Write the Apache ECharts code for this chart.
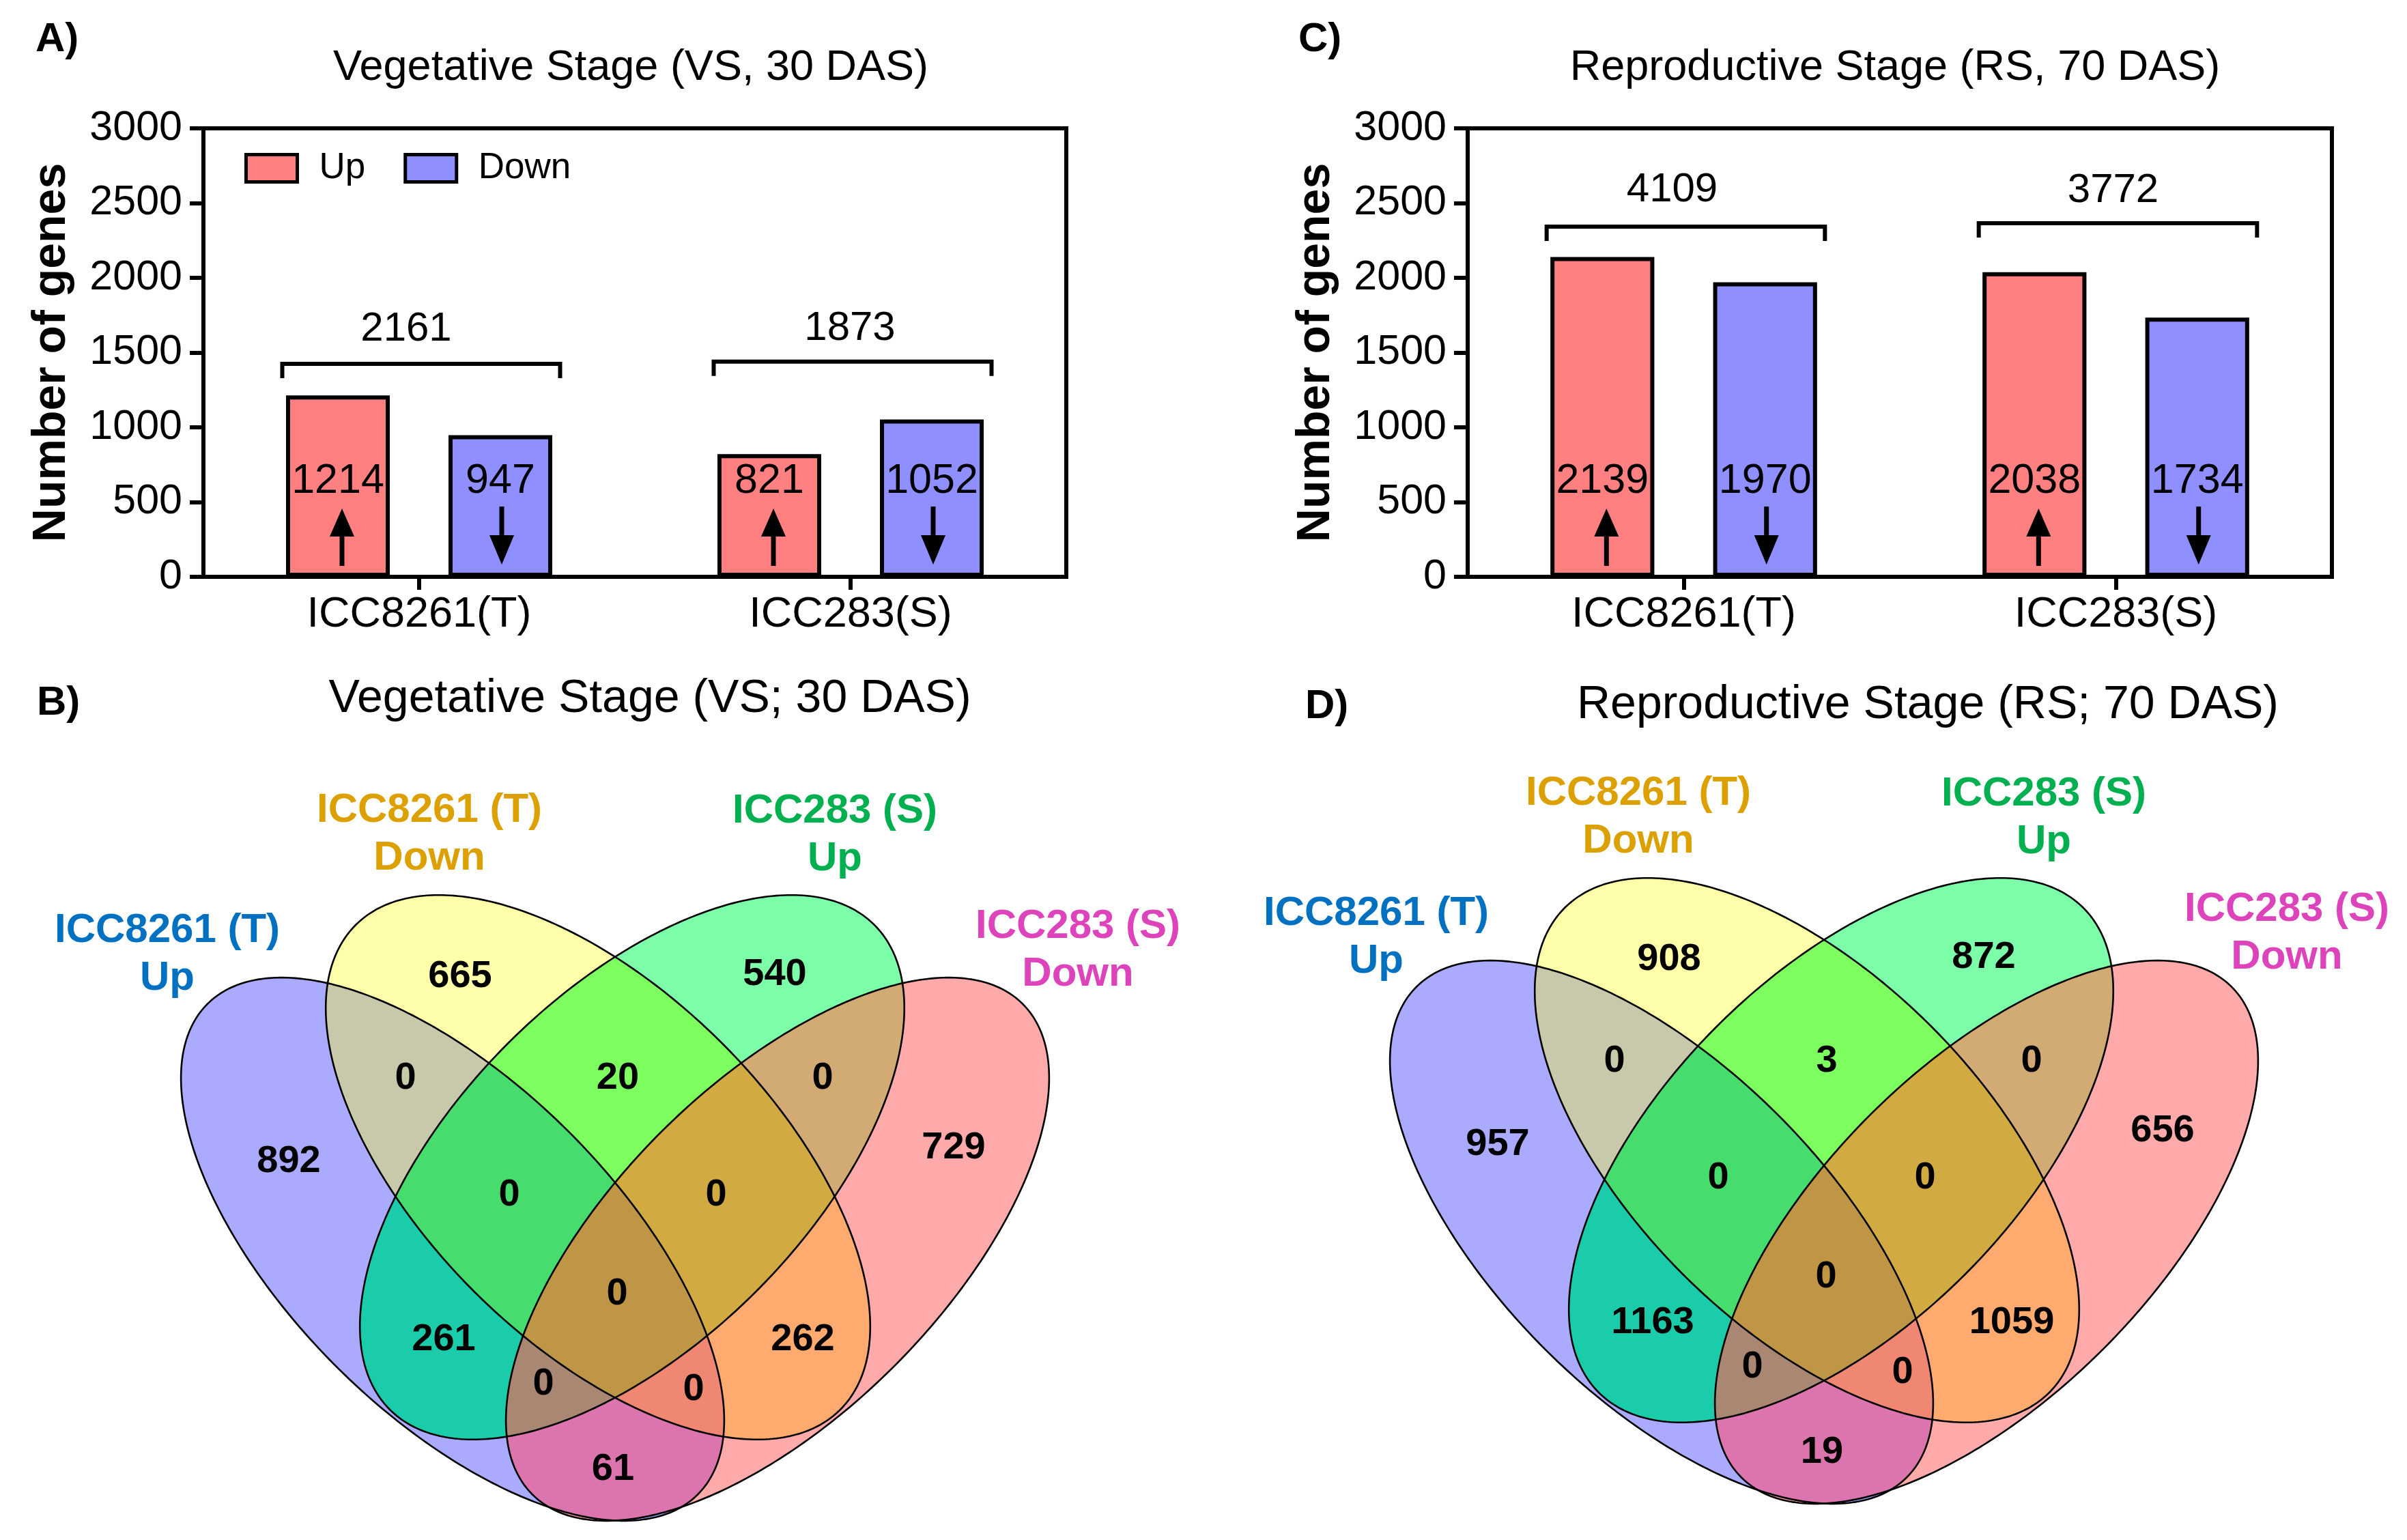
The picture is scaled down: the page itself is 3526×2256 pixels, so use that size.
<!DOCTYPE html>
<html><head><meta charset="utf-8">
<script src="https://cdn.jsdelivr.net/npm/echarts@6/dist/echarts.min.js"></script>
<style>html,body{margin:0;padding:0;background:#fff}#c{width:3526px;height:2256px}</style>
</head><body><div id="c"></div>
<script>
// ---------------- data ----------------
const categories = ['ICC8261(T)', 'ICC283(S)'];
const seriesNames = ['Up', 'Down'];
const vsUp = [1214, 821];
const vsDown = [947, 1052];
const rsUp = [2139, 2038];
const rsDown = [1970, 1734];
const barTitles = ['Vegetative Stage (VS, 30 DAS)', 'Reproductive Stage (RS, 70 DAS)'];
const vennTitles = ['Vegetative Stage (VS; 30 DAS)', 'Reproductive Stage (RS; 70 DAS)'];
const panelLetters = ['A)', 'B)', 'C)', 'D)'];
const yAxisName = 'Number of genes';
const vennSetNames = ['ICC8261 (T)\nUp', 'ICC8261 (T)\nDown', 'ICC283 (S)\nUp', 'ICC283 (S)\nDown'];
// region membership masks (1 = ICC8261 Up, 2 = ICC8261 Down, 4 = ICC283 Up, 8 = ICC283 Down)
const vennRegionMask = [1, 2, 4, 8, 3, 6, 12, 7, 14, 15, 5, 10, 13, 11, 9];
const vsVenn = [892, 665, 540, 729, 0, 20, 0, 0, 0, 0, 261, 262, 0, 0, 61];
const rsVenn = [957, 908, 872, 656, 0, 3, 0, 0, 0, 0, 1163, 1059, 0, 0, 19];

// ---------------- layout / style ----------------
const FONT = "'Liberation Sans', Arial, Helvetica, sans-serif";
const UP_COLOR = '#FF8080', DOWN_COLOR = '#8F8FFF';
const BAR_W = 0.2405, BAR_GAP = 0.566;
const NOTE_LEVEL = 640;
const ARROW = { up: { from: 73, base: 269, tip: 457 }, down: { from: 470, base: 279, tip: 82 } };
// [bracket level, label level, label x shift px]
const vsBracket = [[1425, 1655, -22], [1440, 1660, -4]];
const rsBracket = [[2342, 2589, -20], [2365, 2584, -7]];
const vennRegionPos = [[-478, -8], [-227, -279], [234, -282], [496, -28], [-307, -130], [4, -130], [304, -130],
  [-155, 41], [148, 41], [3, 186], [-251, 253], [275, 253], [-105, 318], [115, 326], [-3, 443]];
const vennRegionColor = ['#AAAAFF', '#FFFFAA', '#7DFFAA', '#FFAAAA', '#C8C8AA', '#7DFF5F', '#D2AA73',
  '#46DC6E', '#D2AA42', '#BE9646', '#1ACCAA', '#FFAA6E', '#AA8773', '#F08773', '#DC74AE'];
const vennEllipses = [[-238, 120, 508, 242, 45], [-25, 0, 502, 257, 45], [25, 0, 502, 257, -45], [238, 120, 508, 242, -45]];
const vennLabelPos = [[-656, -312], [-272, -488], [322, -487], [678, -318]];
const vennLabelColor = ['#0070C0', '#DCA000', '#00B050', '#DD44BB'];

// ---------------- geometry helpers ----------------
function ellipseData(e) {
  const [cx, cy, a, b, angDeg] = e;
  const ang = angDeg * Math.PI / 180, pts = [];
  for (let i = 0; i < 360; i++) {
    const t = i / 360 * 2 * Math.PI;
    pts.push([cx + a * Math.cos(t) * Math.cos(ang) - b * Math.sin(t) * Math.sin(ang),
              cy + a * Math.cos(t) * Math.sin(ang) + b * Math.sin(t) * Math.cos(ang)]);
  }
  return pts;
}
function signedArea(p) {
  let s = 0;
  for (let i = 0; i < p.length; i++) { const q = p[i], r = p[(i + 1) % p.length]; s += q[0] * r[1] - r[0] * q[1]; }
  return s;
}
function lineX(S, E, A, B) {
  const x1 = S[0], y1 = S[1], x2 = E[0], y2 = E[1], x3 = A[0], y3 = A[1], x4 = B[0], y4 = B[1];
  const d = (x1 - x2) * (y3 - y4) - (y1 - y2) * (x3 - x4);
  if (Math.abs(d) < 1e-12) return [x2, y2];
  const t = ((x1 - x3) * (y3 - y4) - (y1 - y3) * (x3 - x4)) / d;
  return [x1 + t * (x2 - x1), y1 + t * (y2 - y1)];
}
function clipConvex(subject, clipPoly) {
  const sg = signedArea(clipPoly) > 0 ? 1 : -1;
  let out = subject;
  for (let i = 0; i < clipPoly.length && out.length; i++) {
    const A = clipPoly[i], B = clipPoly[(i + 1) % clipPoly.length];
    const inside = p => sg * ((B[0] - A[0]) * (p[1] - A[1]) - (B[1] - A[1]) * (p[0] - A[0])) >= 0;
    const inp = out; out = [];
    let S = inp[inp.length - 1];
    for (const E of inp) {
      const eIn = inside(E), sIn = inside(S);
      if (eIn) { if (!sIn) out.push(lineX(S, E, A, B)); out.push(E); }
      else if (sIn) out.push(lineX(S, E, A, B));
      S = E;
    }
  }
  return out;
}
const ellipsePolys = vennEllipses.map(ellipseData);
function regionPoly(mask) {
  const sets = [0, 1, 2, 3].filter(k => mask & (1 << k));
  let poly = ellipsePolys[sets[0]];
  for (let j = 1; j < sets.length; j++) poly = clipConvex(poly, ellipsePolys[sets[j]]);
  return poly;
}
const popcount = m => (m & 1) + ((m >> 1) & 1) + ((m >> 2) & 1) + ((m >> 3) & 1);
const regionPaintOrder = vennRegionMask.map((m, i) => i).sort((i, j) => popcount(vennRegionMask[i]) - popcount(vennRegionMask[j]));

// ---------------- render helpers ----------------
function renderBarNote(params, api) {
  const cat = api.value(0), kind = api.value(1), val = api.value(2);
  const band = api.size([1, 0])[0];
  const off = band * BAR_W * (1 + BAR_GAP) / 2;
  const cx = api.coord([cat, 0])[0] + (kind === 0 ? -off : off);
  const ax = cx + (kind === 0 ? 6 : 2);
  const ty = api.coord([cat, NOTE_LEVEL])[1];
  const children = [{
    type: 'text', x: cx, y: ty,
    style: { text: String(val), fontSize: 61, fontFamily: FONT, fill: '#000', textAlign: 'center', textVerticalAlign: 'middle' }
  }];
  const A = kind === 0 ? ARROW.up : ARROW.down;
  const yFrom = api.coord([cat, A.from])[1], yBase = api.coord([cat, A.base])[1], yTip = api.coord([cat, A.tip])[1];
  children.push({ type: 'line', shape: { x1: ax, y1: yFrom, x2: ax, y2: yBase }, style: { stroke: '#000', lineWidth: 7 } });
  children.push({ type: 'polygon', shape: { points: [[ax - 18, yBase], [ax + 18, yBase], [ax, yTip]] }, style: { fill: '#000' } });
  return { type: 'group', children };
}
function renderBracket(params, api) {
  const cat = api.value(0), by = api.value(1), ly = api.value(2), total = api.value(3), dx = api.value(4);
  const band = api.size([1, 0])[0];
  const hw = band * 0.322;
  const p = api.coord([cat, by]);
  const cx = p[0] + 3, y = p[1];
  const lyPx = api.coord([cat, ly])[1];
  return {
    type: 'group', children: [
      { type: 'polyline', shape: { points: [[cx - hw, y + 21], [cx - hw, y], [cx + hw, y], [cx + hw, y + 21]] },
        style: { stroke: '#000', lineWidth: 6, fill: null, lineJoin: 'miter' } },
      { type: 'text', x: cx + dx, y: lyPx, style: { text: String(total), fontSize: 60, fontFamily: FONT, fill: '#000', textAlign: 'center', textVerticalAlign: 'middle' } }
    ]
  };
}
function renderRegion(params, api) {
  const idx = api.value(0);
  const pts = regionPoly(vennRegionMask[idx]).map(p => api.coord(p));
  if (pts.length < 3) return null;
  const c = vennRegionColor[idx];
  return { type: 'polygon', shape: { points: pts }, style: { fill: c, stroke: c, lineWidth: 1 } };
}
function renderEllipseLine(params, api) {
  const pts = ellipseData([api.value(0), api.value(1), api.value(2), api.value(3), api.value(4)]).map(p => api.coord(p));
  return { type: 'polygon', shape: { points: pts }, style: { fill: null, stroke: '#000', lineWidth: 2.6 } };
}
function renderCount(params, api) {
  const p = api.coord([api.value(0), api.value(1)]);
  return { type: 'text', x: p[0], y: p[1], style: { text: String(api.value(2)), fontSize: 56, fontWeight: 'bold', fontFamily: FONT, fill: '#000', textAlign: 'center', textVerticalAlign: 'middle' } };
}
function renderSetLabel(params, api) {
  const p = api.coord([api.value(0), api.value(1)]);
  const k = api.value(2);
  return { type: 'text', x: p[0], y: p[1], style: { text: vennSetNames[k], fontSize: 60, fontWeight: 'bold', fontFamily: FONT, fill: vennLabelColor[k], textAlign: 'center', textVerticalAlign: 'middle', lineHeight: 70 } };
}

// ---------------- axes ----------------
function catAxis(gi) {
  return {
    gridIndex: gi, type: 'category', data: categories,
    axisLine: { show: true, lineStyle: { color: '#000', width: 6 } },
    axisTick: { show: true, alignWithLabel: true, length: 19, lineStyle: { color: '#000', width: 6 } },
    axisLabel: { fontSize: 63, color: '#000', margin: 24, fontFamily: FONT },
    splitLine: { show: false }
  };
}
function valAxis(gi) {
  return {
    gridIndex: gi, type: 'value', min: 0, max: 3000, interval: 500,
    name: yAxisName, nameLocation: 'middle', nameGap: 188,
    nameTextStyle: { fontSize: 68, fontWeight: 'bold', color: '#000', fontFamily: FONT },
    axisLine: { show: true, lineStyle: { color: '#000', width: 6 } },
    axisTick: { show: true, length: 20, lineStyle: { color: '#000', width: 6 } },
    axisLabel: { fontSize: 61, color: '#000', margin: 31, fontFamily: FONT, formatter: v => String(v) },
    splitLine: { show: false }
  };
}
const hiddenX = gi => ({ gridIndex: gi, type: 'value', min: -700, max: 700, show: false });
const hiddenY = gi => ({ gridIndex: gi, type: 'value', min: -760, max: 540, inverse: true, show: false });

function barSeries(name, data, color, gi) {
  return {
    type: 'bar', name, data, xAxisIndex: gi, yAxisIndex: gi,
    barWidth: (BAR_W * 100) + '%', barGap: (BAR_GAP * 100) + '%',
    itemStyle: { color, borderColor: '#000', borderWidth: 6 }, emphasis: { disabled: true }
  };
}
function noteData(up, down) {
  const out = [];
  categories.forEach((c, i) => { out.push([i, 0, up[i]]); out.push([i, 1, down[i]]); });
  return out;
}
function bracketData(up, down, br) {
  return categories.map((c, i) => [i, br[i][0], br[i][1], up[i] + down[i], br[i][2]]);
}
function vennSeries(gi, counts) {
  return [
    { type: 'custom', xAxisIndex: gi, yAxisIndex: gi, renderItem: renderRegion, data: regionPaintOrder.map(i => [i, 0]), silent: true, z: 2 },
    { type: 'custom', xAxisIndex: gi, yAxisIndex: gi, renderItem: renderEllipseLine, data: vennEllipses, silent: true, z: 3 },
    { type: 'custom', xAxisIndex: gi, yAxisIndex: gi, renderItem: renderCount, data: vennRegionPos.map((p, i) => [p[0], p[1], counts[i]]), silent: true, z: 4 },
    { type: 'custom', xAxisIndex: gi, yAxisIndex: gi, renderItem: renderSetLabel, data: vennLabelPos.map((p, i) => [p[0], p[1], i]), silent: true, z: 4 }
  ];
}
function txt(text, x, y, size, bold, align) {
  return { type: 'text', x, y, style: { text, fontSize: size, fontWeight: bold ? 'bold' : 'normal', fontFamily: FONT, fill: '#000', textAlign: align || 'center', textVerticalAlign: 'middle' } };
}

const option = {
  backgroundColor: '#fff',
  animation: false,
  grid: [
    { left: 298, top: 188, width: 1264, height: 657, show: true, borderColor: '#000', borderWidth: 6, backgroundColor: 'transparent', outerBoundsMode: 'none', containLabel: false },
    { left: 2150, top: 188, width: 1266, height: 657, show: true, borderColor: '#000', borderWidth: 6, backgroundColor: 'transparent', outerBoundsMode: 'none', containLabel: false },
    { left: 201, top: 950, width: 1400, height: 1300, show: false, outerBoundsMode: 'none', containLabel: false },
    { left: 1972, top: 925, width: 1400, height: 1300, show: false, outerBoundsMode: 'none', containLabel: false }
  ],
  xAxis: [catAxis(0), catAxis(1), hiddenX(2), hiddenX(3)],
  yAxis: [valAxis(0), valAxis(1), hiddenY(2), hiddenY(3)],
  legend: {
    left: 353, top: 215, itemWidth: 75, itemHeight: 40, itemGap: 56, icon: 'rect',
    data: seriesNames, selectedMode: false,
    itemStyle: { borderColor: '#000', borderWidth: 5 },
    textStyle: { fontSize: 53, color: '#000', fontFamily: FONT, lineHeight: 40, padding: [0, 0, 0, 27] }
  },
  graphic: [
    txt(panelLetters[0], 52, 58, 60, true, 'left'),
    txt(panelLetters[2], 1902, 58, 60, true, 'left'),
    txt(panelLetters[1], 54, 1030, 60, true, 'left'),
    txt(panelLetters[3], 1912, 1035, 60, true, 'left'),
    txt(barTitles[0], 924, 100, 63, false),
    txt(barTitles[1], 2776, 100, 63, false),
    txt(vennTitles[0], 952, 1024, 68, false),
    txt(vennTitles[1], 2824, 1033, 68, false)
  ],
  series: [
    barSeries(seriesNames[0], vsUp, UP_COLOR, 0),
    barSeries(seriesNames[1], vsDown, DOWN_COLOR, 0),
    barSeries(seriesNames[0], rsUp, UP_COLOR, 1),
    barSeries(seriesNames[1], rsDown, DOWN_COLOR, 1),
    { type: 'custom', xAxisIndex: 0, yAxisIndex: 0, renderItem: renderBarNote, data: noteData(vsUp, vsDown), silent: true, z: 5 },
    { type: 'custom', xAxisIndex: 1, yAxisIndex: 1, renderItem: renderBarNote, data: noteData(rsUp, rsDown), silent: true, z: 5 },
    { type: 'custom', xAxisIndex: 0, yAxisIndex: 0, renderItem: renderBracket, data: bracketData(vsUp, vsDown, vsBracket), silent: true, z: 5 },
    { type: 'custom', xAxisIndex: 1, yAxisIndex: 1, renderItem: renderBracket, data: bracketData(rsUp, rsDown, rsBracket), silent: true, z: 5 },
    ...vennSeries(2, vsVenn),
    ...vennSeries(3, rsVenn)
  ]
};
const chart = echarts.init(document.getElementById('c'), null, { renderer: 'canvas', width: 3526, height: 2256 });
chart.setOption(option);
</script>
</body></html>
